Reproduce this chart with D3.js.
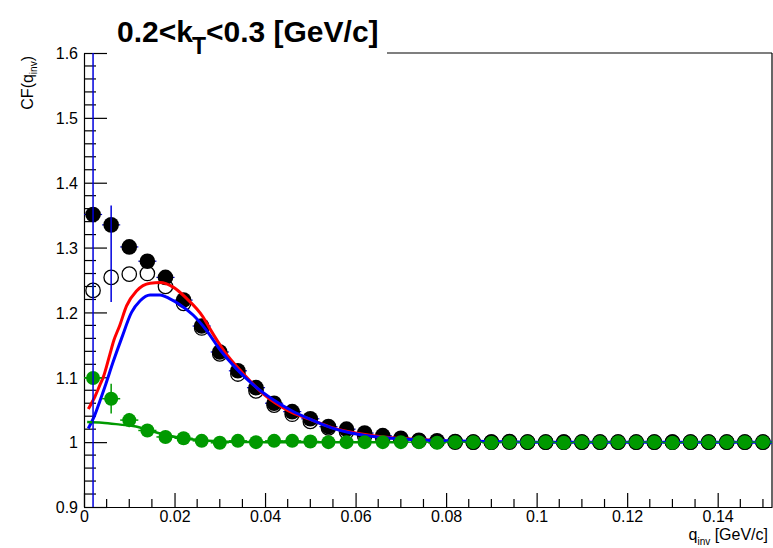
<!DOCTYPE html>
<html><head><meta charset="utf-8">
<script src="https://cdn.jsdelivr.net/npm/d3@7"></script>
<style>
body{margin:0;background:#fff}
svg{display:block}
text{font-family:"Liberation Sans",Arial,Helvetica,sans-serif;fill:#000}
</style>
</head><body>
<svg id="c" width="773" height="548"></svg>
<script>
// bin centres of the q_inv histograms [GeV/c]
const qBins = [0.002,0.006,0.010,0.014,0.018,0.022,0.026,0.030,0.034,0.038,
  0.042,0.046,0.050,0.054,0.058,0.062,0.066,0.070,0.074,0.078,
  0.082,0.086,0.090,0.094,0.098,0.102,0.106,0.110,0.114,0.118,
  0.122,0.126,0.130,0.134,0.138,0.142,0.146,0.150];

// full correlation function (filled black)
const cfFilled = [1.351,1.335,1.301,1.279,1.254,1.219,1.179,1.139,1.110,1.084,
  1.060,1.047,1.036,1.024,1.020,1.014,1.010,1.006,1.003,1.002,
  1.001,1.000,1.000,1.001,1.000,1.000,1.000,1.000,1.000,1.000,
  1.000,1.000,1.000,1.000,1.000,1.000,1.000,1.000];
const cfFilledLo = [0.50,1.216,1.297,1.276,1.251,1.216,1.176,1.136,1.107,1.081,
  1.057,1.044,1.033,1.021,1.017,1.011,1.007,1.003,1.000,0.999,
  0.998,0.997,0.997,0.998,0.997,0.997,0.997,0.997,0.997,0.997,
  0.997,0.997,0.997,0.997,0.997,0.997,0.997,0.997];
const cfFilledHi = [2.00,1.365,1.305,1.282,1.257,1.222,1.182,1.142,1.113,1.087,
  1.063,1.050,1.039,1.027,1.023,1.017,1.013,1.009,1.006,1.005,
  1.004,1.003,1.003,1.004,1.003,1.003,1.003,1.003,1.003,1.003,
  1.003,1.003,1.003,1.003,1.003,1.003,1.003,1.003];

// open markers
const cfOpen = [1.234,1.254,1.259,1.260,1.240,1.214,1.176,1.136,1.105,1.079,
  1.057,1.043,1.032,1.022,1.016,1.010,1.006,1.004,1.002,1.001,
  1.000,1.000,1.000,1.000,1.000,1.000,1.000,1.000,1.000,1.000,
  1.000,1.000,1.000,1.000,1.000,1.000,1.000,1.000];
const cfOpenErr = [0.012,0,0,0,0,0,0,0,0,0,
  0,0,0,0,0,0,0,0,0,0,
  0,0,0,0,0,0,0,0,0,0,
  0,0,0,0,0,0,0,0];

// green markers
const cfGreen = [1.099,1.067,1.034,1.018,1.008,1.006,1.002,0.999,1.002,1.000,
  1.002,1.002,1.001,1.000,1.000,1.000,1.000,1.000,1.000,0.999,
  1.000,1.000,0.999,1.000,1.000,1.000,0.999,1.000,1.000,1.000,
  1.000,1.000,0.999,1.000,1.000,1.000,1.000,1.000];
const cfGreenErr = [0.006,0.023,0.011,0.006,0.005,0.004,0.004,0.004,0.004,0.004,
  0.004,0.004,0.004,0.004,0.004,0.004,0.004,0.004,0.004,0.004,
  0.004,0.004,0.004,0.004,0.004,0.004,0.004,0.004,0.004,0.004,
  0.004,0.004,0.004,0.004,0.004,0.004,0.004,0.004];

// fit curves [q, CF]
const fitRed = [[0.00095,1.051],[0.0024,1.070],[0.0035,1.088],[0.0043,1.101],[0.0057,1.135],
  [0.0066,1.157],[0.0079,1.180],[0.0094,1.210],[0.0116,1.233],[0.0146,1.245],[0.0168,1.246],
  [0.0197,1.239],[0.0226,1.222],[0.0263,1.193],[0.0278,1.175],[0.031,1.140],[0.035,1.107],
  [0.040,1.072],[0.045,1.049],[0.050,1.035],[0.055,1.022],[0.060,1.014],[0.066,1.008],
  [0.072,1.005],[0.080,1.002]];
const fitBlue = [[0.00095,1.021],[0.0024,1.042],[0.0035,1.063],[0.0046,1.085],[0.0065,1.125],
  [0.0083,1.160],[0.0105,1.200],[0.0124,1.218],[0.0146,1.227],[0.0168,1.227],[0.019,1.221],
  [0.0212,1.212],[0.0241,1.196],[0.0271,1.172],[0.030,1.143],[0.0337,1.113],[0.0373,1.089],
  [0.0419,1.065],[0.046,1.048],[0.0504,1.034],[0.0547,1.022],[0.059,1.014],[0.0635,1.009],
  [0.068,1.006],[0.0725,1.004],[0.080,1.002],[0.090,1.001],[0.100,1.000],[0.152,1.000]];
const fitGreen = [[0.0007,1.031],[0.004,1.030],[0.008,1.027],[0.0115,1.024],[0.0145,1.018],
  [0.018,1.011],[0.022,1.006],[0.026,1.003],[0.030,1.001],[0.040,1.000],[0.070,1.000]];

const xTicks = [0,0.02,0.04,0.06,0.08,0.10,0.12,0.14];
const xTickLabels = ["0","0.02","0.04","0.06","0.08","0.1","0.12","0.14"];
const yTicks = [0.9,1.0,1.1,1.2,1.3,1.4,1.5,1.6];
const yTickLabels = ["0.9","1","1.1","1.2","1.3","1.4","1.5","1.6"];

const L = 84, R = 772, T = 53, B = 507;
const x = d3.scaleLinear().domain([0, 0.152]).range([L, R]);
const y = d3.scaleLinear().domain([0.9, 1.6]).range([B, T]);

const svg = d3.select("#c");
svg.append("defs").append("clipPath").attr("id","plotclip")
  .append("rect").attr("x",L).attr("y",T).attr("width",R-L).attr("height",B-T);

// frame: top edge is interrupted by the title box
svg.append("line").attr("x1",387).attr("x2",R).attr("y1",T).attr("y2",T)
  .attr("stroke","#000").attr("stroke-width",1.2);
svg.append("line").attr("x1",R).attr("x2",R).attr("y1",T).attr("y2",B)
  .attr("stroke","#000").attr("stroke-width",1.2);

// x axis (ticks pointing into the frame)
const xAxis = d3.axisBottom(x).tickValues(xTicks).tickSizeInner(-14).tickSizeOuter(0)
  .tickFormat((d,i)=>xTickLabels[i]).tickPadding(0);
const gx = svg.append("g").attr("transform",`translate(0,${B})`).call(xAxis);
gx.select(".domain").attr("stroke","#000").attr("stroke-width",1.2);
gx.selectAll(".tick line").attr("stroke","#000").attr("stroke-width",1.2);
gx.selectAll(".tick text").attr("font-size",16).attr("dy",null).attr("y",15);
const xMinor = d3.range(0, 0.1521, 0.005).filter(v => xTicks.every(t => Math.abs(t-v) > 1e-6));
svg.append("g").selectAll("line").data(xMinor).join("line")
  .attr("x1",d=>x(d)).attr("x2",d=>x(d)).attr("y1",B).attr("y2",B-8)
  .attr("stroke","#000").attr("stroke-width",1.2);

// y axis
const yAxis = d3.axisLeft(y).tickValues(yTicks).tickSizeInner(-23).tickSizeOuter(0)
  .tickFormat((d,i)=>yTickLabels[i]).tickPadding(0);
const gy = svg.append("g").attr("transform",`translate(${L},0)`).call(yAxis);
gy.select(".domain").attr("stroke","#000").attr("stroke-width",1.2);
gy.selectAll(".tick line").attr("stroke","#000").attr("stroke-width",1.2);
gy.selectAll(".tick text").attr("font-size",16).attr("x",-6).attr("dy","0.36em");
const yMinor = d3.range(0.92, 1.6, 0.02).filter(v => yTicks.every(t => Math.abs(t-v) > 1e-6));
svg.append("g").selectAll("line").data(yMinor).join("line")
  .attr("x1",L).attr("x2",L+12).attr("y1",d=>y(d)).attr("y2",d=>y(d))
  .attr("stroke","#000").attr("stroke-width",1.2);

const plot = svg.append("g").attr("clip-path","url(#plotclip)");

// open markers
plot.append("g").selectAll("line").data(qBins.filter((d,i)=>cfOpenErr[i]>0)).join("line")
  .attr("x1",d=>x(d)).attr("x2",d=>x(d))
  .attr("y1",d=>{const i=qBins.indexOf(d);return y(cfOpen[i]-cfOpenErr[i]);})
  .attr("y2",d=>{const i=qBins.indexOf(d);return y(cfOpen[i]+cfOpenErr[i]);})
  .attr("stroke","#00a000").attr("stroke-width",1.5);
plot.append("g").selectAll("circle").data(qBins).join("circle")
  .attr("cx",d=>x(d)).attr("cy",(d,i)=>y(cfOpen[i])).attr("r",7.2)
  .attr("fill","none").attr("stroke","#000").attr("stroke-width",1.3);

// filled black markers with blue error bars
plot.append("g").selectAll("line").data(qBins).join("line")
  .attr("x1",d=>x(d-0.002)).attr("x2",d=>x(d+0.002))
  .attr("y1",(d,i)=>y(cfFilled[i])).attr("y2",(d,i)=>y(cfFilled[i]))
  .attr("stroke","#0000cc").attr("stroke-width",1.2);
plot.append("g").selectAll("circle").data(qBins).join("circle")
  .attr("cx",d=>x(d)).attr("cy",(d,i)=>y(cfFilled[i])).attr("r",7.8)
  .attr("fill","#000");

// fits
const line = d3.line().x(d=>x(d[0])).y(d=>y(d[1])).curve(d3.curveMonotoneX);
plot.append("path").datum(fitRed).attr("d",line).attr("fill","none")
  .attr("stroke","#ff0000").attr("stroke-width",3);
plot.append("path").datum(fitBlue).attr("d",line).attr("fill","none")
  .attr("stroke","#0000ff").attr("stroke-width",3);
plot.append("path").datum(fitGreen).attr("d",line).attr("fill","none")
  .attr("stroke","#009900").attr("stroke-width",2.5);

// green markers with error bars
plot.append("g").selectAll("line").data(qBins).join("line")
  .attr("x1",d=>x(d-0.002)).attr("x2",d=>x(d+0.002))
  .attr("y1",(d,i)=>y(cfGreen[i])).attr("y2",(d,i)=>y(cfGreen[i]))
  .attr("stroke","#009900").attr("stroke-width",1.5);
plot.append("g").selectAll("line").data(qBins).join("line")
  .attr("x1",d=>x(d)).attr("x2",d=>x(d))
  .attr("y1",(d,i)=>y(cfGreen[i]-cfGreenErr[i])).attr("y2",(d,i)=>y(cfGreen[i]+cfGreenErr[i]))
  .attr("stroke","#009900").attr("stroke-width",1.5);
plot.append("g").selectAll("circle").data(qBins).join("circle")
  .attr("cx",d=>x(d)).attr("cy",(d,i)=>y(cfGreen[i])).attr("r",7.0)
  .attr("fill","#009900");

// vertical error bars of the filled points (first bin spans the full range)
plot.append("g").selectAll("line").data(qBins.slice(0,2)).join("line")
  .attr("x1",d=>x(d)).attr("x2",d=>x(d))
  .attr("y1",(d,i)=>y(cfFilledLo[i])).attr("y2",(d,i)=>y(cfFilledHi[i]))
  .attr("stroke","#0000dd").attr("stroke-width",1.5);

// title
const title = svg.append("text").attr("x",117).attr("y",42)
  .attr("font-size",30).attr("font-weight","bold");
title.append("tspan").text("0.2<k");
title.append("tspan").attr("font-size",23).attr("dy",12).attr("dx",-1).text("T");
title.append("tspan").attr("font-size",30).attr("dy",-12).text("<0.3 [GeV/c]");

// axis titles
const yt = svg.append("text").attr("transform","translate(33,56) rotate(-90)")
  .attr("text-anchor","end").attr("font-size",16);
yt.append("tspan").text("CF(q");
yt.append("tspan").attr("font-size",10).attr("dy",4).text("inv");
yt.append("tspan").attr("dy",-4).text(")");

const xt = svg.append("text").attr("x",768).attr("y",540)
  .attr("text-anchor","end").attr("font-size",16);
xt.append("tspan").text("q");
xt.append("tspan").attr("font-size",10).attr("dy",5).text("inv");
xt.append("tspan").attr("dy",-5).text(" [GeV/c]");
</script>
</body></html>
